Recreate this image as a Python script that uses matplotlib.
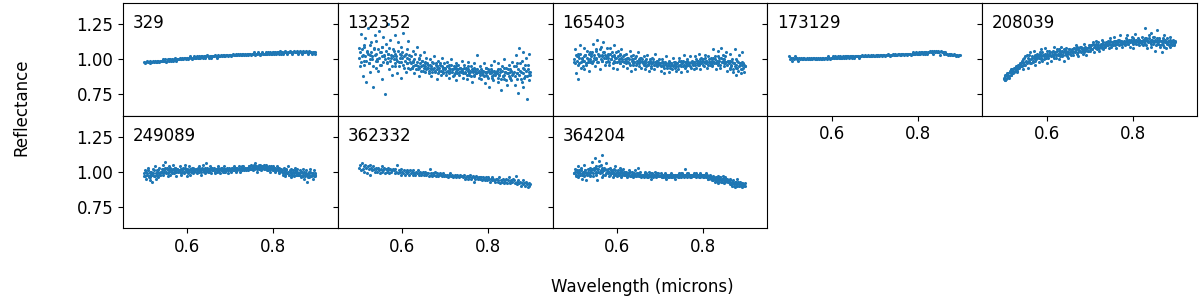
import numpy as np
import matplotlib
matplotlib.use("Agg")
import matplotlib.pyplot as plt

# Wavelength grid (microns), shared by all spectra
wavelength = [
    0.500, 0.502, 0.504, 0.506, 0.508, 0.510, 0.512, 0.514, 0.516, 0.518, 0.520, 0.522, 0.524, 0.526, 0.528, 0.530, 0.532, 0.534, 0.536, 0.538,
    0.540, 0.542, 0.544, 0.546, 0.548, 0.550, 0.552, 0.554, 0.556, 0.558, 0.560, 0.562, 0.564, 0.566, 0.568, 0.570, 0.572, 0.574, 0.576, 0.578,
    0.580, 0.582, 0.584, 0.586, 0.588, 0.590, 0.592, 0.594, 0.596, 0.598, 0.600, 0.602, 0.604, 0.606, 0.608, 0.610, 0.612, 0.614, 0.616, 0.618,
    0.620, 0.622, 0.624, 0.626, 0.628, 0.630, 0.632, 0.634, 0.636, 0.638, 0.640, 0.642, 0.644, 0.646, 0.648, 0.650, 0.652, 0.654, 0.656, 0.658,
    0.660, 0.662, 0.664, 0.666, 0.668, 0.670, 0.672, 0.674, 0.676, 0.678, 0.680, 0.682, 0.684, 0.686, 0.688, 0.690, 0.692, 0.694, 0.696, 0.698,
    0.700, 0.702, 0.704, 0.706, 0.708, 0.710, 0.712, 0.714, 0.716, 0.718, 0.720, 0.722, 0.724, 0.726, 0.728, 0.730, 0.732, 0.734, 0.736, 0.738,
    0.740, 0.742, 0.744, 0.746, 0.748, 0.750, 0.752, 0.754, 0.756, 0.758, 0.760, 0.762, 0.764, 0.766, 0.768, 0.770, 0.772, 0.774, 0.776, 0.778,
    0.780, 0.782, 0.784, 0.786, 0.788, 0.790, 0.792, 0.794, 0.796, 0.798, 0.800, 0.802, 0.804, 0.806, 0.808, 0.810, 0.812, 0.814, 0.816, 0.818,
    0.820, 0.822, 0.824, 0.826, 0.828, 0.830, 0.832, 0.834, 0.836, 0.838, 0.840, 0.842, 0.844, 0.846, 0.848, 0.850, 0.852, 0.854, 0.856, 0.858,
    0.860, 0.862, 0.864, 0.866, 0.868, 0.870, 0.872, 0.874, 0.876, 0.878, 0.880, 0.882, 0.884, 0.886, 0.888, 0.890, 0.892, 0.894, 0.896, 0.898,
]

refl_329 = [
    0.98, 0.97, 0.98, 0.99, 0.98, 0.98, 0.97, 0.99, 0.98, 0.98, 0.99, 0.98, 0.99, 0.98, 0.98, 0.99, 0.99, 0.98, 0.99, 0.99,
    0.99, 1.00, 0.99, 0.99, 1.00, 0.98, 0.99, 1.00, 0.99, 1.00, 1.00, 0.99, 1.00, 0.99, 1.00, 1.01, 1.00, 0.99, 1.00, 1.00,
    1.00, 1.01, 1.00, 1.00, 1.01, 1.00, 1.01, 1.01, 1.00, 1.01, 1.01, 1.00, 1.01, 1.02, 1.01, 1.00, 1.01, 1.01, 1.02, 1.01,
    1.01, 1.02, 1.01, 1.01, 1.02, 1.01, 1.02, 1.02, 1.01, 1.02, 1.02, 1.01, 1.02, 1.03, 1.02, 1.01, 1.02, 1.02, 1.01, 1.02,
    1.02, 1.02, 1.03, 1.02, 1.01, 1.02, 1.03, 1.02, 1.02, 1.03, 1.02, 1.03, 1.02, 1.03, 1.02, 1.03, 1.03, 1.02, 1.03, 1.03,
    1.03, 1.02, 1.03, 1.04, 1.03, 1.03, 1.04, 1.03, 1.03, 1.04, 1.03, 1.04, 1.03, 1.03, 1.04, 1.04, 1.03, 1.04, 1.03, 1.04,
    1.04, 1.03, 1.04, 1.04, 1.03, 1.04, 1.04, 1.05, 1.04, 1.03, 1.04, 1.04, 1.05, 1.04, 1.04, 1.03, 1.04, 1.05, 1.04, 1.04,
    1.04, 1.05, 1.04, 1.04, 1.05, 1.04, 1.05, 1.04, 1.04, 1.05, 1.05, 1.04, 1.05, 1.04, 1.05, 1.05, 1.04, 1.05, 1.06, 1.04,
    1.05, 1.04, 1.05, 1.05, 1.06, 1.05, 1.04, 1.05, 1.05, 1.06, 1.05, 1.05, 1.04, 1.05, 1.06, 1.05, 1.05, 1.06, 1.05, 1.04,
    1.05, 1.06, 1.05, 1.04, 1.05, 1.06, 1.05, 1.05, 1.06, 1.05, 1.04, 1.05, 1.06, 1.05, 1.05, 1.04, 1.05, 1.05, 1.04, 1.05,
]

refl_132352 = [
    1.08, 0.95, 1.18, 1.02, 0.88, 1.10, 0.99, 1.15, 0.84, 1.05, 1.22, 0.97, 1.03, 0.91, 1.12, 1.00, 0.80, 1.07, 1.17, 0.94,
    1.13, 1.00, 0.92, 1.20, 1.05, 0.96, 1.09, 0.86, 1.16, 1.02, 0.75, 1.11, 0.98, 1.25, 1.04, 0.93, 1.14, 1.01, 0.89, 1.07,
    1.06, 0.95, 1.17, 1.00, 0.90, 1.12, 0.98, 1.04, 0.87, 1.09, 1.01, 1.19, 0.94, 1.03, 0.91, 1.07, 0.97, 1.13, 1.00, 0.93,
    1.02, 0.94, 1.06, 0.98, 0.90, 1.04, 0.96, 1.09, 0.93, 1.00, 0.88, 1.03, 0.95, 0.99, 0.92, 1.05, 0.97, 0.91, 1.01, 0.94,
    0.96, 0.90, 1.00, 0.94, 0.88, 0.98, 0.93, 1.02, 0.91, 0.97, 0.86, 0.95, 0.99, 0.92, 0.96, 0.89, 1.01, 0.94, 0.90, 0.97,
    0.94, 0.89, 0.98, 0.92, 0.87, 0.96, 0.91, 1.00, 0.93, 0.88, 0.95, 0.90, 0.97, 0.85, 0.93, 0.96, 0.89, 0.94, 0.91, 0.99,
    0.92, 0.87, 0.96, 0.90, 0.94, 0.86, 0.93, 0.98, 0.89, 0.91, 0.95, 0.84, 0.92, 0.97, 0.88, 0.93, 0.90, 1.03, 0.91, 0.87,
    0.90, 0.95, 0.86, 0.92, 0.89, 0.97, 0.83, 0.91, 0.94, 0.88, 0.93, 0.80, 0.90, 0.96, 0.87, 0.92, 0.85, 0.99, 0.89, 0.91,
    0.92, 0.84, 0.97, 0.89, 0.93, 0.78, 0.95, 0.88, 1.00, 0.86, 0.91, 0.94, 0.82, 0.90, 0.96, 0.87, 0.93, 0.85, 0.98, 0.90,
    0.95, 0.82, 1.03, 0.90, 0.97, 0.76, 1.08, 0.92, 0.86, 0.99, 0.80, 1.05, 0.93, 0.88, 1.01, 0.72, 0.96, 0.89, 1.04, 0.91,
]
refl_132352_b = [
    1.01, 1.05, 0.98, 1.07, 1.03, 0.96, 1.09, 1.02, 0.99, 1.06, 1.04, 0.97, 1.10, 1.00, 1.05, 1.02, 0.95, 1.08, 1.03, 0.99,
    1.04, 0.99, 1.07, 1.01, 0.96, 1.05, 1.02, 1.09, 0.98, 1.03, 1.00, 1.06, 0.97, 1.04, 1.01, 1.08, 0.99, 1.03, 0.95, 1.02,
    1.00, 1.04, 0.97, 1.02, 0.99, 1.06, 0.95, 1.01, 1.03, 0.98, 1.05, 0.96, 1.02, 0.99, 1.04, 0.97, 1.01, 0.94, 1.03, 0.98,
    0.97, 0.94, 0.99, 0.95, 1.00, 0.96, 0.93, 0.98, 0.95, 1.01, 0.94, 0.97, 0.92, 0.99, 0.96, 0.94, 0.98, 0.95, 0.93, 0.97,
    0.94, 0.92, 0.96, 0.93, 0.95, 0.91, 0.97, 0.94, 0.92, 0.96, 0.93, 0.95, 0.90, 0.94, 0.97, 0.92, 0.95, 0.93, 0.91, 0.94,
    0.93, 0.91, 0.95, 0.92, 0.94, 0.90, 0.93, 0.96, 0.91, 0.93, 0.89, 0.94, 0.92, 0.95, 0.90, 0.93, 0.91, 0.94, 0.92, 0.93,
    0.92, 0.90, 0.94, 0.91, 0.93, 0.89, 0.92, 0.95, 0.90, 0.92, 0.88, 0.93, 0.91, 0.94, 0.89, 0.92, 0.90, 0.93, 0.91, 0.92,
    0.91, 0.89, 0.93, 0.90, 0.92, 0.88, 0.91, 0.94, 0.89, 0.91, 0.87, 0.92, 0.90, 0.93, 0.88, 0.91, 0.89, 0.92, 0.90, 0.91,
    0.90, 0.87, 0.93, 0.89, 0.91, 0.86, 0.92, 0.88, 0.94, 0.89, 0.91, 0.85, 0.90, 0.93, 0.88, 0.91, 0.87, 0.92, 0.89, 0.90,
    0.91, 0.88, 0.95, 0.90, 0.86, 0.93, 0.89, 0.97, 0.91, 0.84, 0.94, 0.90, 0.87, 0.96, 0.92, 0.88, 0.93, 0.85, 0.91, 0.89,
]

refl_165403 = [
    0.98, 1.07, 0.90, 1.02, 0.86, 1.04, 0.97, 1.10, 0.94, 1.01, 0.99, 1.08, 0.93, 1.03, 0.96, 1.06, 1.00, 0.92, 1.05, 0.98,
    1.04, 0.97, 1.11, 1.01, 0.95, 1.07, 1.00, 1.14, 0.98, 1.03, 0.93, 1.09, 1.02, 0.99, 1.12, 1.05, 0.96, 1.01, 1.08, 0.99,
    1.03, 0.96, 1.08, 1.00, 1.05, 0.94, 1.02, 1.10, 0.98, 1.01, 0.93, 1.06, 0.99, 1.04, 0.97, 1.07, 1.00, 0.95, 1.03, 0.98,
    0.99, 1.04, 0.94, 1.01, 0.97, 1.06, 0.92, 1.00, 0.96, 1.03, 0.98, 0.93, 1.02, 0.97, 1.05, 0.95, 0.99, 1.01, 0.94, 1.00,
    0.97, 1.02, 0.93, 0.99, 0.95, 1.03, 0.96, 0.92, 1.00, 0.97, 0.94, 1.01, 0.98, 0.93, 1.04, 0.96, 0.99, 0.95, 0.97, 1.00,
    0.96, 0.92, 1.00, 0.95, 0.98, 0.90, 0.97, 1.02, 0.94, 0.96, 0.91, 0.99, 0.95, 0.97, 0.93, 1.01, 0.96, 0.94, 0.98, 0.92,
    0.97, 0.93, 1.01, 0.96, 0.99, 0.91, 0.98, 0.95, 1.03, 0.94, 0.97, 1.00, 0.92, 0.98, 0.96, 1.02, 0.94, 0.99, 0.97, 0.93,
    0.98, 1.02, 0.94, 0.99, 0.96, 1.04, 0.97, 0.93, 1.01, 0.98, 1.00, 0.95, 1.03, 0.97, 0.99, 0.94, 1.02, 0.98, 0.96, 1.01,
    1.00, 0.95, 1.07, 0.97, 1.02, 0.93, 0.99, 1.06, 0.96, 1.01, 0.94, 1.08, 0.98, 1.03, 0.95, 1.00, 0.97, 1.05, 0.92, 0.99,
    0.98, 0.93, 1.04, 0.95, 1.00, 0.91, 0.97, 1.07, 0.94, 0.89, 0.99, 0.92, 1.03, 0.96, 0.90, 1.05, 0.93, 0.97, 0.91, 0.95,
]
refl_165403_b = [
    1.00, 0.97, 1.03, 0.99, 1.02, 0.96, 1.01, 1.04, 0.98, 1.00, 0.95, 1.02, 0.99, 1.03, 0.97, 1.01, 0.98, 1.04, 1.00, 0.99,
    1.02, 1.05, 0.99, 1.03, 1.00, 1.06, 1.01, 0.98, 1.04, 1.02, 1.07, 1.00, 1.03, 0.99, 1.05, 1.01, 1.03, 0.98, 1.02, 1.04,
    1.01, 0.98, 1.04, 1.00, 1.02, 0.97, 1.03, 0.99, 1.01, 1.05, 0.98, 1.02, 1.00, 0.97, 1.03, 1.01, 0.99, 1.02, 0.98, 1.00,
    0.99, 0.97, 1.01, 0.98, 1.00, 0.96, 1.02, 0.99, 0.97, 1.00, 0.98, 1.01, 0.96, 0.99, 0.98, 1.00, 0.97, 0.99, 1.01, 0.98,
    0.98, 0.96, 0.99, 0.97, 1.00, 0.96, 0.98, 0.97, 0.99, 0.95, 0.98, 0.97, 1.00, 0.96, 0.98, 0.97, 0.99, 0.96, 0.98, 0.97,
    0.97, 0.95, 0.98, 0.96, 0.97, 0.94, 0.98, 0.96, 0.95, 0.97, 0.96, 0.98, 0.94, 0.97, 0.96, 0.95, 0.98, 0.96, 0.97, 0.95,
    0.97, 0.95, 0.99, 0.96, 0.98, 0.95, 0.97, 0.99, 0.96, 0.98, 0.95, 0.97, 0.99, 0.96, 0.97, 0.95, 0.98, 0.97, 0.96, 0.98,
    0.98, 0.96, 1.00, 0.97, 0.99, 0.96, 0.98, 1.00, 0.97, 0.99, 0.96, 0.98, 1.01, 0.97, 0.99, 0.98, 0.96, 1.00, 0.98, 0.97,
    0.99, 0.96, 1.01, 0.98, 1.00, 0.97, 0.99, 1.02, 0.97, 0.99, 0.96, 1.01, 0.98, 1.00, 0.97, 0.99, 1.02, 0.98, 0.96, 0.99,
    0.97, 0.94, 0.99, 0.96, 0.98, 0.93, 0.97, 0.95, 1.00, 0.96, 0.94, 0.98, 0.95, 0.97, 0.93, 0.96, 0.98, 0.94, 0.96, 0.95,
]

refl_173129 = [
    1.02, 1.00, 1.01, 1.01, 0.99, 1.01, 1.00, 1.02, 1.01, 1.00, 1.01, 0.99, 1.01, 1.00, 1.01, 1.00, 1.01, 1.00, 1.01, 1.00,
    1.00, 1.01, 1.00, 1.01, 1.00, 1.00, 1.01, 1.00, 1.01, 1.01, 1.00, 1.01, 1.00, 1.00, 1.01, 1.00, 1.01, 1.00, 1.00, 1.01,
    1.01, 1.00, 1.01, 1.01, 1.00, 1.01, 1.02, 1.01, 1.00, 1.01, 1.01, 1.02, 1.01, 1.01, 1.02, 1.01, 1.01, 1.02, 1.01, 1.01,
    1.02, 1.01, 1.01, 1.02, 1.01, 1.02, 1.02, 1.01, 1.02, 1.02, 1.01, 1.02, 1.02, 1.01, 1.02, 1.02, 1.01, 1.02, 1.02, 1.02,
    1.02, 1.02, 1.01, 1.02, 1.02, 1.03, 1.02, 1.02, 1.02, 1.03, 1.02, 1.02, 1.03, 1.02, 1.02, 1.03, 1.02, 1.02, 1.03, 1.02,
    1.02, 1.03, 1.02, 1.03, 1.03, 1.02, 1.03, 1.03, 1.02, 1.03, 1.03, 1.03, 1.02, 1.03, 1.03, 1.04, 1.03, 1.03, 1.02, 1.03,
    1.03, 1.04, 1.03, 1.03, 1.04, 1.03, 1.03, 1.04, 1.04, 1.03, 1.04, 1.03, 1.04, 1.04, 1.03, 1.04, 1.04, 1.03, 1.04, 1.04,
    1.04, 1.04, 1.03, 1.04, 1.05, 1.04, 1.04, 1.04, 1.05, 1.04, 1.04, 1.05, 1.04, 1.04, 1.05, 1.05, 1.04, 1.05, 1.04, 1.05,
    1.05, 1.04, 1.05, 1.05, 1.06, 1.05, 1.05, 1.06, 1.04, 1.06, 1.05, 1.06, 1.05, 1.05, 1.06, 1.05, 1.03, 1.06, 1.05, 1.05,
    1.05, 1.04, 1.05, 1.04, 1.04, 1.03, 1.04, 1.04, 1.03, 1.04, 1.03, 1.03, 1.04, 1.03, 1.02, 1.03, 1.03, 1.02, 1.03, 1.03,
]

refl_208039 = [
    0.86, 0.88, 0.85, 0.89, 0.87, 0.90, 0.88, 0.92, 0.89, 0.91, 0.93, 0.90, 0.94, 0.92, 0.95, 0.93, 0.91, 0.96, 0.94, 0.97,
    0.95, 0.99, 0.93, 0.97, 1.01, 0.96, 0.99, 1.03, 0.94, 1.00, 0.98, 1.05, 0.97, 1.01, 0.99, 1.06, 0.96, 1.02, 1.00, 1.04,
    1.02, 0.98, 1.05, 1.01, 1.07, 0.99, 1.03, 1.00, 1.08, 1.02, 0.97, 1.04, 1.01, 1.06, 1.03, 0.99, 1.05, 1.02, 1.09, 1.03,
    1.04, 1.01, 1.07, 1.03, 1.00, 1.06, 1.04, 1.09, 1.02, 1.05, 0.99, 1.06, 1.03, 1.08, 1.04, 1.01, 1.07, 1.05, 1.03, 1.06,
    1.06, 1.03, 1.08, 1.05, 1.10, 1.04, 1.07, 1.02, 1.06, 1.09, 1.05, 1.08, 1.04, 1.07, 1.11, 1.06, 1.03, 1.08, 1.06, 1.09,
    1.08, 1.06, 1.10, 1.07, 1.12, 1.05, 1.09, 1.08, 1.13, 1.07, 1.10, 1.06, 1.09, 1.11, 1.08, 1.14, 1.07, 1.10, 1.09, 1.12,
    1.10, 1.13, 1.08, 1.11, 1.15, 1.09, 1.12, 1.10, 1.16, 1.11, 1.13, 1.08, 1.12, 1.14, 1.10, 1.17, 1.11, 1.13, 1.09, 1.12,
    1.13, 1.10, 1.15, 1.12, 1.17, 1.11, 1.14, 1.09, 1.13, 1.16, 1.12, 1.08, 1.14, 1.18, 1.11, 1.13, 1.15, 1.10, 1.14, 1.12,
    1.12, 1.16, 1.10, 1.14, 1.22, 1.11, 1.15, 1.08, 1.13, 1.17, 1.12, 1.19, 1.09, 1.14, 1.11, 1.16, 1.06, 1.13, 1.21, 1.12,
    1.11, 1.15, 1.09, 1.13, 1.05, 1.14, 1.10, 1.17, 1.12, 1.08, 1.15, 1.11, 1.13, 1.09, 1.16, 1.12, 1.10, 1.14, 1.11, 1.13,
]
refl_208039_b = [
    0.87, 0.85, 0.89, 0.86, 0.90, 0.88, 0.87, 0.91, 0.89, 0.93, 0.90, 0.92, 0.91, 0.94, 0.93, 0.95, 0.92, 0.94, 0.96, 0.95,
    0.97, 0.95, 0.98, 1.00, 0.96, 1.02, 0.98, 0.97, 1.01, 0.99, 1.03, 0.97, 1.00, 1.02, 0.98, 1.01, 1.03, 0.99, 1.02, 1.01,
    1.03, 1.01, 1.04, 1.02, 1.00, 1.05, 1.03, 1.02, 1.04, 1.01, 1.06, 1.03, 1.02, 1.04, 1.05, 1.02, 1.03, 1.06, 1.01, 1.04,
    1.05, 1.03, 1.06, 1.04, 1.07, 1.02, 1.05, 1.04, 1.06, 1.03, 1.07, 1.05, 1.04, 1.06, 1.02, 1.05, 1.07, 1.04, 1.06, 1.05,
    1.07, 1.05, 1.08, 1.06, 1.07, 1.09, 1.05, 1.07, 1.08, 1.06, 1.09, 1.07, 1.06, 1.08, 1.05, 1.09, 1.07, 1.08, 1.06, 1.10,
    1.09, 1.08, 1.10, 1.07, 1.11, 1.09, 1.10, 1.08, 1.11, 1.09, 1.12, 1.08, 1.10, 1.09, 1.11, 1.10, 1.12, 1.09, 1.11, 1.10,
    1.11, 1.10, 1.12, 1.11, 1.13, 1.10, 1.12, 1.11, 1.13, 1.12, 1.10, 1.13, 1.11, 1.12, 1.14, 1.11, 1.12, 1.13, 1.11, 1.12,
    1.12, 1.11, 1.13, 1.12, 1.14, 1.11, 1.13, 1.12, 1.14, 1.12, 1.15, 1.11, 1.13, 1.12, 1.14, 1.13, 1.11, 1.14, 1.12, 1.13,
    1.13, 1.11, 1.14, 1.12, 1.15, 1.13, 1.10, 1.14, 1.12, 1.15, 1.13, 1.11, 1.14, 1.13, 1.16, 1.12, 1.14, 1.10, 1.13, 1.15,
    1.12, 1.14, 1.10, 1.13, 1.11, 1.15, 1.12, 1.09, 1.14, 1.12, 1.11, 1.13, 1.10, 1.14, 1.12, 1.11, 1.13, 1.12, 1.10, 1.12,
]

refl_249089 = [
    0.97, 1.01, 0.95, 0.99, 1.03, 0.96, 0.94, 1.00, 0.98, 0.93, 1.02, 0.97, 1.04, 0.95, 0.99, 1.01, 0.96, 1.03, 0.98, 1.00,
    1.02, 0.98, 1.05, 1.00, 1.07, 0.99, 1.03, 0.97, 1.01, 1.04, 0.98, 1.02, 1.00, 1.05, 0.99, 1.03, 1.01, 0.97, 1.02, 1.00,
    1.01, 1.04, 0.98, 1.02, 1.00, 1.03, 0.99, 1.05, 1.01, 0.97, 1.02, 1.00, 1.04, 0.98, 1.01, 1.03, 0.99, 1.02, 1.00, 1.01,
    1.02, 0.99, 1.03, 1.00, 1.04, 1.01, 0.98, 1.02, 1.05, 1.00, 1.03, 0.99, 1.06, 1.01, 1.02, 1.00, 1.04, 1.02, 0.99, 1.03,
    1.01, 1.03, 0.99, 1.02, 1.00, 1.04, 1.01, 1.02, 0.99, 1.03, 1.01, 1.00, 1.02, 1.04, 1.00, 1.01, 1.03, 0.99, 1.02, 1.01,
    1.02, 1.00, 1.03, 1.01, 1.04, 1.02, 1.00, 1.03, 1.01, 1.02, 1.04, 1.00, 1.03, 1.02, 1.01, 1.04, 1.02, 1.03, 1.01, 1.02,
    1.03, 1.01, 1.04, 1.02, 1.05, 1.03, 1.01, 1.04, 1.02, 1.06, 1.03, 1.00, 1.04, 1.02, 1.05, 1.03, 1.01, 1.04, 1.03, 1.05,
    1.04, 1.02, 1.05, 1.01, 1.03, 1.04, 1.00, 1.03, 1.02, 1.04, 1.01, 1.03, 1.00, 1.02, 1.04, 1.01, 1.03, 0.99, 1.02, 1.01,
    1.01, 0.98, 1.03, 1.00, 0.97, 1.02, 0.99, 1.04, 0.98, 1.00, 0.96, 1.02, 0.99, 1.01, 0.97, 1.03, 1.00, 0.98, 1.02, 0.99,
    0.98, 1.01, 0.96, 1.00, 0.97, 1.02, 0.95, 0.99, 1.01, 0.93, 0.98, 1.00, 0.96, 1.02, 0.97, 0.99, 0.95, 1.01, 0.98, 0.97,
]
refl_249089_b = [
    0.99, 0.97, 1.00, 0.98, 1.01, 0.97, 0.99, 0.96, 1.00, 0.98, 0.99, 1.01, 0.97, 0.99, 1.00, 0.98, 1.01, 0.99, 0.98, 1.00,
    1.00, 1.02, 0.99, 1.01, 1.03, 1.00, 1.02, 0.99, 1.01, 1.00, 1.03, 1.01, 0.99, 1.02, 1.00, 1.01, 1.03, 1.00, 1.02, 1.01,
    1.01, 1.00, 1.02, 0.99, 1.01, 1.02, 1.00, 1.03, 1.01, 1.00, 1.02, 0.99, 1.01, 1.02, 1.00, 1.01, 1.03, 1.00, 1.02, 1.01,
    1.02, 1.00, 1.01, 1.03, 1.01, 1.02, 1.00, 1.03, 1.01, 1.02, 1.00, 1.02, 1.01, 1.03, 1.00, 1.02, 1.01, 1.02, 1.03, 1.01,
    1.01, 1.02, 1.00, 1.02, 1.01, 1.03, 1.01, 1.00, 1.02, 1.01, 1.03, 1.01, 1.02, 1.00, 1.02, 1.01, 1.02, 1.01, 1.03, 1.01,
    1.02, 1.01, 1.03, 1.02, 1.01, 1.03, 1.02, 1.01, 1.03, 1.02, 1.02, 1.01, 1.03, 1.02, 1.04, 1.02, 1.01, 1.03, 1.02, 1.03,
    1.03, 1.02, 1.04, 1.03, 1.02, 1.04, 1.03, 1.05, 1.02, 1.03, 1.04, 1.02, 1.03, 1.05, 1.03, 1.02, 1.04, 1.03, 1.04, 1.02,
    1.03, 1.02, 1.04, 1.03, 1.01, 1.03, 1.02, 1.04, 1.02, 1.03, 1.01, 1.02, 1.03, 1.01, 1.02, 1.03, 1.00, 1.02, 1.01, 1.02,
    1.00, 0.99, 1.01, 0.98, 1.00, 1.01, 0.99, 1.00, 0.98, 1.01, 0.99, 1.00, 0.98, 1.00, 0.99, 1.01, 0.98, 1.00, 0.99, 0.98,
    0.99, 0.98, 1.00, 0.97, 0.99, 0.98, 1.00, 0.97, 0.99, 0.98, 0.96, 0.99, 0.98, 1.00, 0.97, 0.98, 0.99, 0.97, 0.98, 0.99,
]

refl_362332 = [
    1.03, 1.05, 1.01, 1.06, 1.02, 1.04, 1.00, 1.05, 1.03, 0.99, 1.04, 1.02, 1.05, 0.98, 1.03, 1.01, 1.04, 1.02, 1.00, 1.03,
    1.02, 1.00, 1.03, 1.01, 0.99, 1.02, 1.04, 1.00, 1.01, 1.03, 0.99, 1.02, 1.00, 1.01, 1.03, 0.99, 1.02, 1.00, 1.01, 1.02,
    1.01, 0.99, 1.02, 1.00, 1.05, 0.99, 1.01, 1.00, 0.98, 1.02, 1.00, 0.99, 1.01, 0.98, 1.00, 1.01, 0.99, 1.00, 0.98, 1.01,
    0.99, 1.00, 0.98, 1.01, 0.99, 0.98, 1.00, 0.99, 1.01, 0.98, 0.99, 1.00, 0.98, 0.99, 1.00, 0.98, 0.99, 1.00, 0.98, 0.99,
    0.99, 0.97, 1.02, 0.98, 0.99, 0.97, 0.99, 0.98, 1.00, 0.97, 0.98, 0.99, 0.97, 0.98, 0.99, 0.98, 0.97, 0.99, 0.98, 0.97,
    0.98, 0.97, 0.98, 0.96, 0.98, 0.97, 0.99, 0.97, 0.98, 0.96, 0.97, 0.98, 0.97, 0.96, 0.98, 0.97, 0.96, 0.98, 0.97, 0.97,
    0.97, 0.96, 0.98, 0.95, 0.96, 0.97, 0.95, 0.97, 0.96, 0.98, 0.95, 0.96, 0.97, 0.93, 0.96, 0.95, 0.97, 0.96, 0.95, 0.96,
    0.96, 0.95, 0.96, 0.94, 0.96, 0.95, 0.94, 0.96, 0.95, 0.94, 0.96, 0.95, 0.93, 0.95, 0.96, 0.94, 0.95, 0.94, 0.93, 0.95,
    0.95, 0.93, 0.94, 0.96, 0.92, 0.94, 0.93, 0.95, 0.92, 0.94, 0.93, 0.95, 0.92, 0.94, 0.96, 0.93, 0.92, 0.94, 0.93, 0.95,
    0.94, 0.92, 0.97, 0.93, 0.91, 0.94, 0.92, 0.93, 0.90, 0.92, 0.94, 0.91, 0.92, 0.90, 0.93, 0.91, 0.89, 0.92, 0.90, 0.91,
]

refl_364204 = [
    0.99, 1.02, 0.97, 1.00, 1.04, 0.96, 1.01, 0.98, 1.03, 0.95, 1.00, 1.05, 0.97, 1.01, 0.94, 0.99, 1.02, 0.98, 1.03, 0.97,
    1.01, 1.07, 0.97, 1.03, 1.10, 0.99, 1.04, 0.94, 1.02, 1.08, 1.00, 1.05, 0.96, 1.12, 1.01, 1.03, 0.98, 1.06, 1.00, 1.02,
    1.00, 0.97, 1.03, 0.99, 1.01, 0.96, 1.02, 0.98, 1.04, 0.99, 0.97, 1.01, 0.98, 1.03, 0.99, 0.96, 1.00, 1.02, 0.98, 1.00,
    0.98, 1.00, 0.96, 0.99, 1.01, 0.97, 0.98, 1.00, 0.96, 0.99, 0.98, 1.01, 0.97, 0.99, 1.03, 0.97, 0.98, 1.00, 0.96, 0.98,
    0.98, 0.96, 1.00, 0.97, 0.99, 0.96, 0.98, 1.00, 0.97, 0.98, 0.95, 0.99, 0.97, 0.98, 1.00, 0.96, 0.98, 0.97, 0.99, 0.97,
    0.97, 0.99, 0.96, 0.98, 0.96, 0.97, 0.99, 0.95, 0.98, 0.97, 0.96, 0.98, 0.97, 0.99, 0.96, 0.98, 0.97, 0.95, 0.98, 0.97,
    0.98, 0.96, 0.99, 0.97, 0.98, 0.96, 0.99, 0.97, 0.98, 1.02, 0.97, 0.98, 0.96, 0.99, 0.97, 0.98, 0.96, 0.98, 0.97, 0.99,
    0.98, 0.97, 0.99, 0.97, 0.98, 0.96, 0.98, 0.99, 0.97, 0.98, 0.96, 0.98, 0.97, 0.99, 0.97, 0.98, 0.95, 0.97, 0.98, 0.96,
    0.96, 0.94, 0.97, 0.95, 0.93, 0.96, 0.94, 0.97, 0.92, 0.95, 0.96, 0.93, 0.95, 0.97, 0.94, 0.92, 0.96, 0.94, 0.95, 0.93,
    0.94, 0.91, 0.95, 0.92, 0.90, 0.94, 0.92, 0.89, 0.93, 0.91, 0.95, 0.92, 0.90, 0.93, 0.91, 0.89, 0.92, 0.90, 0.91, 0.92,
]
refl_364204_b = [
    0.99, 1.00, 0.98, 1.01, 0.99, 0.97, 1.00, 0.99, 1.01, 0.98, 0.99, 1.00, 0.98, 1.01, 0.99, 0.98, 1.00, 0.99, 1.01, 0.98,
    1.00, 1.02, 0.99, 1.01, 1.03, 1.00, 0.98, 1.02, 1.00, 1.04, 0.99, 1.01, 1.00, 1.03, 0.98, 1.01, 1.02, 0.99, 1.01, 1.00,
    0.99, 1.00, 0.98, 1.01, 0.99, 1.00, 0.98, 0.99, 1.01, 0.98, 1.00, 0.99, 0.98, 1.00, 0.99, 1.01, 0.98, 0.99, 1.00, 0.98,
    0.98, 0.99, 0.97, 0.99, 0.98, 1.00, 0.97, 0.98, 0.99, 0.97, 0.99, 0.98, 0.97, 0.99, 0.98, 0.97, 0.99, 0.98, 0.97, 0.98,
    0.98, 0.97, 0.98, 0.99, 0.97, 0.98, 0.96, 0.98, 0.97, 0.99, 0.97, 0.98, 0.96, 0.98, 0.97, 0.98, 0.99, 0.97, 0.98, 0.97,
    0.97, 0.98, 0.96, 0.97, 0.98, 0.97, 0.96, 0.98, 0.97, 0.96, 0.98, 0.97, 0.98, 0.96, 0.97, 0.98, 0.96, 0.97, 0.98, 0.97,
    0.97, 0.98, 0.96, 0.98, 0.97, 0.99, 0.97, 0.98, 0.96, 0.98, 0.97, 0.98, 0.99, 0.97, 0.98, 0.96, 0.98, 0.97, 0.98, 0.97,
    0.97, 0.98, 0.96, 0.98, 0.97, 0.98, 0.97, 0.96, 0.98, 0.97, 0.98, 0.96, 0.97, 0.98, 0.96, 0.97, 0.95, 0.97, 0.96, 0.95,
    0.95, 0.96, 0.94, 0.96, 0.95, 0.94, 0.96, 0.93, 0.95, 0.94, 0.96, 0.94, 0.93, 0.95, 0.94, 0.96, 0.93, 0.95, 0.94, 0.93,
    0.93, 0.92, 0.94, 0.91, 0.93, 0.92, 0.90, 0.93, 0.91, 0.92, 0.90, 0.93, 0.91, 0.92, 0.90, 0.91, 0.92, 0.90, 0.91, 0.90,
]

names = ["329", "132352", "165403", "173129", "208039", "249089", "362332", "364204"]
# each asteroid: one or two passes of reflectance over the same wavelength grid
spectra = [
    [refl_329],
    [refl_132352, refl_132352_b],
    [refl_165403, refl_165403_b],
    [refl_173129],
    [refl_208039, refl_208039_b],
    [refl_249089, refl_249089_b],
    [refl_362332],
    [refl_364204, refl_364204_b],
]

fig, axes = plt.subplots(2, 5, sharex=True, sharey=True, figsize=(12, 3.02), dpi=100)
fig.subplots_adjust(left=0.1025, right=0.9975, top=0.99, bottom=0.245, wspace=0, hspace=0)

for i, ax in enumerate(axes.flat):
    if i >= len(names):
        ax.remove()
        continue
    for refl in spectra[i]:
        ax.scatter(wavelength, refl, s=5, color='#1f77b4', linewidths=0)
    ax.text(0.045, 0.775, names[i], transform=ax.transAxes, fontsize=12)

# top-row panels with nothing below them keep their x labels
for ax in axes[0, 3:]:
    ax.xaxis.set_tick_params(labelbottom=True)

axes[0, 0].set_xlim(0.45, 0.95)
axes[0, 0].set_ylim(0.6, 1.4)
axes[0, 0].set_xticks([0.6, 0.8])
axes[0, 0].set_yticks([0.75, 1.0, 1.25])
for ax in fig.axes:
    ax.tick_params(labelsize=12)

fig.text(0.01, 0.644, "Reflectance", rotation=90, va='center', ha='left', fontsize=12)
fig.text(0.535, 0.05, "Wavelength (microns)", ha='center', va='center', fontsize=12)

plt.savefig("out.png", dpi=100)
